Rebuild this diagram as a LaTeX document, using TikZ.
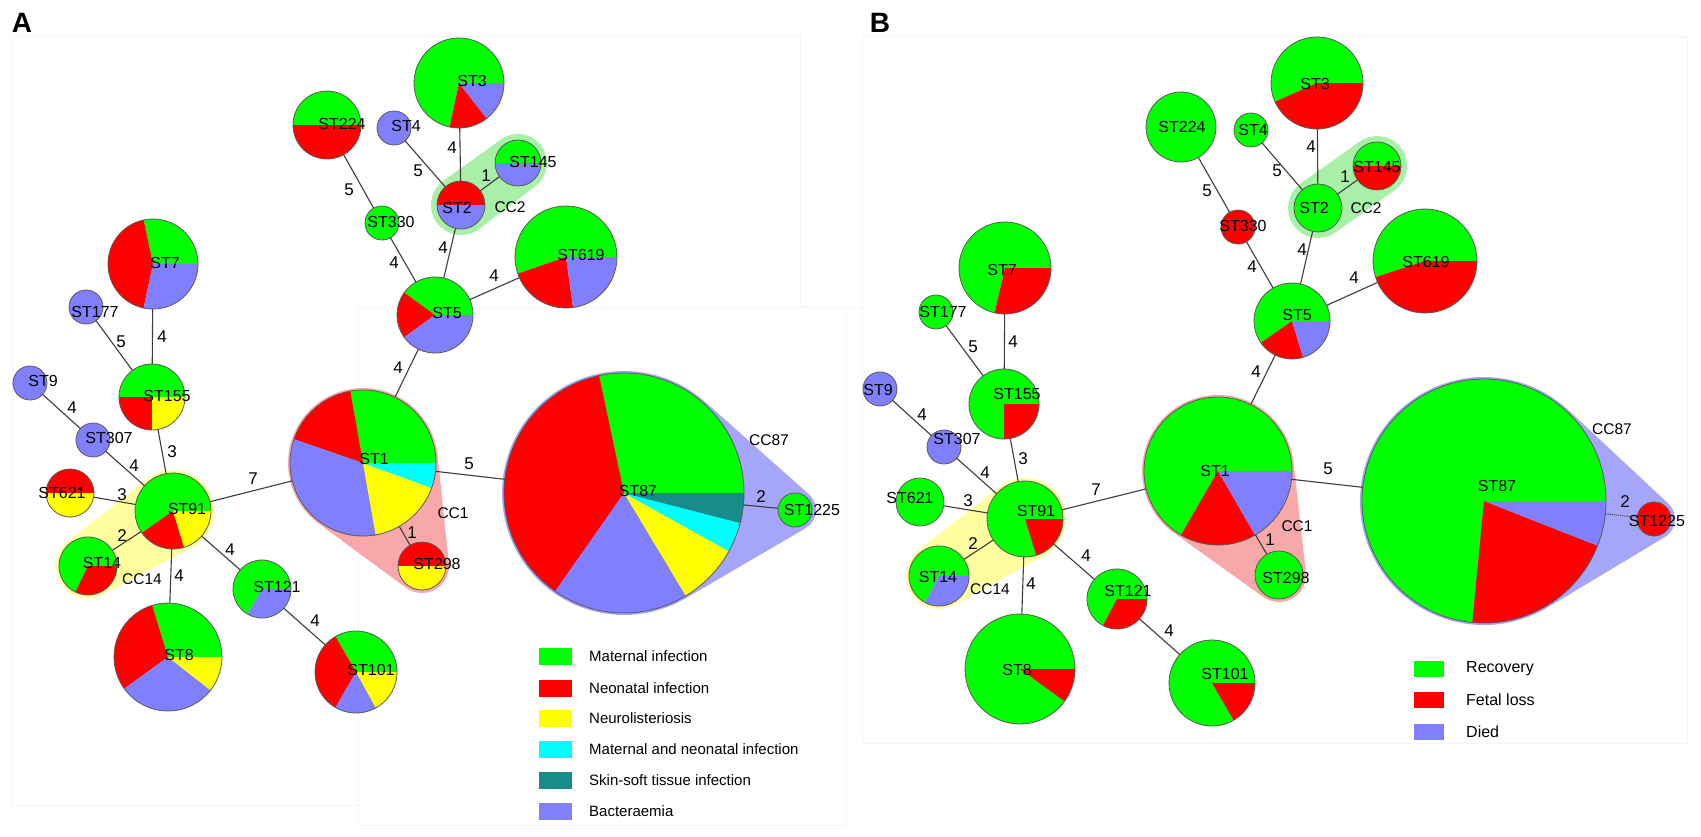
\documentclass[tikz,border=0pt]{standalone}
\usepackage{fontspec}
\setmainfont{Liberation Sans}
\usetikzlibrary{calc}
\pgfdeclarelayer{background}
\pgfsetlayers{background,main}
\definecolor{pg}{RGB}{0,255,0}
\definecolor{pr}{RGB}{255,0,0}
\definecolor{py}{RGB}{255,255,0}
\definecolor{pb}{RGB}{128,128,255}
\definecolor{pc}{RGB}{0,255,255}
\definecolor{pt}{RGB}{24,140,136}
\definecolor{hg}{RGB}{168,240,168}
\definecolor{hy}{RGB}{255,255,160}
\definecolor{hr}{RGB}{248,168,168}
\definecolor{hb}{RGB}{165,165,250}
\definecolor{edgec}{RGB}{60,60,60}
\definecolor{framec}{RGB}{244,244,244}
\tikzset{
  pieline/.style={draw=black!65, line width=0.8pt},
  stl/.style={font=\fontsize{16}{18}\selectfont, inner sep=0pt},
  el/.style={font=\fontsize{17}{19}\selectfont, inner sep=0pt},
  ccl/.style={font=\fontsize{15.5}{18}\selectfont, inner sep=0pt},
  legt/.style={font=\fontsize{15}{18}\selectfont, inner sep=0pt, anchor=west},
  edge/.style={draw=edgec, line width=1.1pt},
  frame/.style={draw=framec, line width=1pt},
  panel/.style={font=\fontsize{28}{30}\selectfont\bfseries, inner sep=0pt}
}
\newcommand{\pienode}[8]{%
  \node[circle, inner sep=0pt, minimum size=2*#4pt] (#1) at (#2,#3) {};
  \foreach \a/\b/\c in {#5} {\fill[\c] (#2,#3) -- ++(-\a:#4) arc[start angle=-\a, end angle=-\b, radius=#4] -- cycle;}
  \draw[pieline] (#2,#3) circle[radius=#4];
  \node[stl] (#1t) at (#2+#6,#3+#7) {#8};
}
\newcommand{\hull}[7]{%
  \pgfmathsetmacro{\hullD}{veclen(#4-#1,#5-#2)}%
  \pgfmathsetmacro{\hullT}{atan2(#5-#2,#4-#1)}%
  \pgfmathsetmacro{\hullP}{acos((#3-#6)/\hullD)}%
  \fill[#7] (#1,#2) ++(\hullT+\hullP:#3) arc[start angle=\hullT+\hullP, end angle=\hullT-\hullP+360, radius=#3] -- ($(#4,#5)+(\hullT-\hullP:#6)$) arc[start angle=\hullT-\hullP, end angle=\hullT+\hullP, radius=#6] -- cycle;
}
\newcommand{\elab}[4]{\node[el] (#1) at (#2,#3) {#4};}
\begin{document}
\begin{tikzpicture}[x=1pt,y=-1pt]
\useasboundingbox (0,0) rectangle (1701,836);
\begin{pgfonlayer}{background}
\fill[white] (0,0) rectangle (1701,836);
% faint frames
\draw[frame] (12,805) -- (12,36) -- (800,36) -- (800,307);
\draw[frame] (12,805) -- (358,805);
\draw[frame] (358,307) rectangle (846,825);
\draw[frame] (862,36) rectangle (1687,743);
\draw[frame] (846,307) -- (862,307);
\end{pgfonlayer}
\node[panel] (pA) at (22,23) {A};
\node[panel] (pB) at (880,23) {B};

% ================= Panel A =================
\pienode{a224}{327}{125}{34}{0/180/pg,180/360/pr}{15}{-1}{ST224}
\pienode{a4}{394}{128}{17}{0/360/pb}{12}{-2}{ST4}
\pienode{a3}{459}{83}{45}{0/258/pg,258/308/pr,308/360/pb}{13}{-2}{ST3}
\pienode{a2}{461}{205}{24}{0/180/pr,180/360/pb}{-4}{3}{ST2}
\pienode{a145}{518}{163}{23}{0/180/pg,180/360/pb}{15}{-1}{ST145}
\pienode{a330}{382}{223}{17}{0/360/pg}{9}{-1}{ST330}
\pienode{a5}{435}{315}{38}{0/144/pg,144/216/pr,216/360/pb}{12}{-2}{ST5}
\pienode{a619}{566}{257}{51}{0/199/pg,199/278/pr,278/360/pb}{15}{-2}{ST619}
\pienode{a7}{153}{264}{45}{0/102/pg,102/258/pr,258/360/pb}{12}{-1}{ST7}
\pienode{a177}{86}{307}{17}{0/360/pb}{9}{5}{ST177}
\pienode{a155}{152}{397}{33}{0/180/pg,180/270/pr,270/360/py}{15}{-1}{ST155}
\pienode{a9}{30}{383}{17}{0/360/pb}{13}{-2}{ST9}
\pienode{a307}{93}{440}{17}{0/360/pb}{16}{-2}{ST307}
\pienode{a621}{70}{493}{24}{0/180/pr,180/360/py}{-8}{0}{ST621}
\pienode{a91}{173}{511}{38}{0/215/pg,215/287/pr,287/360/py}{14}{-2}{ST91}
\pienode{a14}{88}{566}{29}{0/244/pg,244/360/pr}{14}{-3}{ST14}
\pienode{a8}{168}{657}{54}{0/107/pg,107/216/pr,216/322/pb,322/360/py}{11}{-2}{ST8}
\pienode{a121}{262}{589}{29}{0/240/pg,240/360/pb}{15}{-2}{ST121}
\pienode{a101}{356}{672}{41}{0/120/pg,120/240/pr,240/299/pb,299/360/py}{15}{-2}{ST101}
\pienode{a1}{363}{463}{73}{0/100/pg,100/161/pr,161/280/pb,280/340/py,340/360/pc}{11}{-4}{ST1}
\pienode{a298}{422}{566}{24}{0/180/pr,180/360/py}{15}{-2}{ST298}
\pienode{a87}{624}{493}{120}{0/102/pg,102/235/pr,235/301/pb,301/331/py,331/345.5/pc,345.5/360/pt}{14}{-2}{ST87}
\pienode{a1225}{795}{510}{17}{0/360/pg}{17}{0}{ST1225}

\begin{pgfonlayer}{background}
\hull{461}{205}{30}{518}{163}{29}{hg}
\hull{173}{511}{41}{88}{566}{32}{hy}
\hull{363}{463}{75}{422}{566}{27}{hr}
\hull{624}{493}{122}{795}{510}{21}{hb}
\end{pgfonlayer}

\draw[edge] (a3) -- (a2);
\draw[edge] (a4) -- (a2);
\draw[edge] (a2) -- (a145);
\draw[edge] (a224) -- (a330);
\draw[edge] (a330) -- (a5);
\draw[edge] (a2) -- (a5);
\draw[edge] (a5) -- (a619);
\draw[edge] (a5) -- (a1);
\draw[edge] (a7) -- (a155);
\draw[edge] (a177) -- (a155);
\draw[edge] (a9) -- (a307);
\draw[edge] (a155) -- (a91);
\draw[edge] (a307) -- (a91);
\draw[edge] (a621) -- (a91);
\draw[edge] (a14) -- (a91);
\draw[edge] (a91) -- (a8);
\draw[edge] (a91) -- (a121);
\draw[edge] (a121) -- (a101);
\draw[edge] (a91) -- (a1);
\draw[edge] (a1) -- (a298);
\draw[edge] (a1) -- (a87);
\draw[edge] (a87) -- (a1225);

\elab{ea1}{452}{148}{4}
\elab{ea2}{418}{171}{5}
\elab{ea3}{486}{176}{1}
\elab{ea4}{349}{190}{5}
\elab{ea5}{394}{263}{4}
\elab{ea6}{443}{248}{4}
\elab{ea7}{494}{276}{4}
\elab{ea8}{398}{368}{4}
\elab{ea9}{162}{337}{4}
\elab{ea10}{121}{342}{5}
\elab{ea11}{72}{408}{4}
\elab{ea12}{172}{452}{3}
\elab{ea13}{134}{466}{4}
\elab{ea14}{122}{495}{3}
\elab{ea15}{122}{536}{2}
\elab{ea16}{179}{576}{4}
\elab{ea17}{230}{550}{4}
\elab{ea18}{315}{621}{4}
\elab{ea19}{253}{479}{7}
\elab{ea20}{412}{533}{1}
\elab{ea21}{469}{464}{5}
\elab{ea22}{761}{497}{2}

\node[ccl] (cca2) at (510,207) {CC2};
\node[ccl] (cca14) at (142,579) {CC14};
\node[ccl] (cca1) at (453,513) {CC1};
\node[ccl] (cca87) at (769,440) {CC87};

% legend A
\foreach \i/\yy/\cc/\tt in {1/656/pg/Maternal infection,2/688/pr/Neonatal infection,3/718/py/Neurolisteriosis,4/749/pc/Maternal and neonatal infection,5/780/pt/Skin-soft tissue infection,6/811/pb/Bacteraemia}{
  \node[fill=\cc, minimum width=33pt, minimum height=17pt, inner sep=0pt] (lgA\i) at (555.5,\yy) {};
  \node[legt] (lgAt\i) at (589,\yy) {\tt};
}

% ================= Panel B =================
\pienode{b224}{1181}{127}{35}{0/360/pg}{1}{0}{ST224}
\pienode{b4}{1251}{130}{17}{0/360/pg}{2}{0}{ST4}
\pienode{b3}{1317}{83}{46}{0/204/pg,204/360/pr}{-2}{1}{ST3}
\pienode{b2}{1318}{208}{24}{0/360/pg}{-4}{0}{ST2}
\pienode{b145}{1377}{166}{24}{0/180/pg,180/360/pr}{0}{1}{ST145}
\pienode{b330}{1238}{227}{17}{0/360/pr}{5}{-1}{ST330}
\pienode{b5}{1292}{321}{38}{0/215/pg,215/287/pr,287/360/pb}{5}{-6}{ST5}
\pienode{b619}{1425}{261}{52}{0/198/pg,198/360/pr}{1}{1}{ST619}
\pienode{b7}{1005}{268}{46}{0/257/pg,257/360/pr}{-3}{2}{ST7}
\pienode{b177}{936}{312}{17}{0/360/pg}{7}{0}{ST177}
\pienode{b155}{1004}{404}{35}{0/270/pg,270/360/pr}{13}{-10}{ST155}
\pienode{b9}{880}{389}{17}{0/360/pb}{-2}{1}{ST9}
\pienode{b307}{944}{447}{17}{0/360/pb}{13}{-8}{ST307}
\pienode{b621}{920}{502}{24}{0/360/pg}{-10}{-4}{ST621}
\pienode{b91}{1025}{519}{38}{0/287/pg,287/360/pr}{11}{-8}{ST91}
\pienode{b14}{939}{576}{30}{0/242/pg,242/360/pb}{-1}{1}{ST14}
\pienode{b8}{1020}{669}{55}{0/324/pg,324/360/pr}{-3}{1}{ST8}
\pienode{b121}{1117}{599}{30}{0/242/pg,242/360/pr}{11}{-8}{ST121}
\pienode{b101}{1212}{683}{43}{0/300/pg,300/360/pr}{13}{-9}{ST101}
\pienode{b1}{1218}{471}{74}{0/240/pg,240/300/pr,300/360/pb}{-3}{0}{ST1}
\pienode{b298}{1279}{575}{24}{0/360/pg}{7}{3}{ST298}
\pienode{b87}{1484}{501}{122}{0/264.5/pg,264.5/338.5/pr,338.5/360/pb}{13}{-15}{ST87}
\pienode{b1225}{1654}{519}{17}{0/360/pr}{3}{2}{ST1225}

\begin{pgfonlayer}{background}
\hull{1318}{208}{30}{1377}{166}{30}{hg}
\hull{1025}{519}{41}{939}{576}{33}{hy}
\hull{1218}{471}{76}{1279}{575}{27}{hr}
\hull{1484}{501}{124}{1654}{519}{21}{hb}
\end{pgfonlayer}

\draw[edge] (b3) -- (b2);
\draw[edge] (b4) -- (b2);
\draw[edge] (b2) -- (b145);
\draw[edge] (b224) -- (b330);
\draw[edge] (b330) -- (b5);
\draw[edge] (b2) -- (b5);
\draw[edge] (b5) -- (b619);
\draw[edge] (b5) -- (b1);
\draw[edge] (b7) -- (b155);
\draw[edge] (b177) -- (b155);
\draw[edge] (b9) -- (b307);
\draw[edge] (b155) -- (b91);
\draw[edge] (b307) -- (b91);
\draw[edge] (b621) -- (b91);
\draw[edge] (b14) -- (b91);
\draw[edge] (b91) -- (b8);
\draw[edge] (b91) -- (b121);
\draw[edge] (b121) -- (b101);
\draw[edge] (b91) -- (b1);
\draw[edge] (b1) -- (b298);
\draw[edge] (b1) -- (b87);
\draw[edge, densely dotted, line width=0.9pt] (b87) -- (b1225);

\elab{eb1}{1207}{191}{5}
\elab{eb2}{1277}{171}{5}
\elab{eb3}{1311}{147}{4}
\elab{eb4}{1345}{177}{1}
\elab{eb5}{1302}{250}{4}
\elab{eb6}{1252}{267}{4}
\elab{eb7}{1354}{278}{4}
\elab{eb8}{1256}{372}{4}
\elab{eb9}{1013}{342}{4}
\elab{eb10}{973}{347}{5}
\elab{eb11}{922}{415}{4}
\elab{eb12}{1023}{459}{3}
\elab{eb13}{985}{473}{4}
\elab{eb14}{968}{501}{3}
\elab{eb15}{973}{544}{2}
\elab{eb16}{1031}{584}{4}
\elab{eb17}{1086}{556}{4}
\elab{eb18}{1169}{631}{4}
\elab{eb19}{1096}{490}{7}
\elab{eb20}{1270}{540}{1}
\elab{eb21}{1328}{469}{5}
\elab{eb22}{1625}{502}{2}

\node[ccl] (ccb2) at (1366,208) {CC2};
\node[ccl] (ccb14) at (990,589) {CC14};
\node[ccl] (ccb1) at (1297,526) {CC1};
\node[ccl] (ccb87) at (1612,429) {CC87};

% legend B
\foreach \i/\yy/\cc/\tt in {1/669/pg/Recovery,2/700/pr/Fetal loss,3/732/pb/Died}{
  \node[fill=\cc, minimum width=30pt, minimum height=16pt, inner sep=0pt] (lgB\i) at (1429,\yy) {};
  \node[legt, font=\fontsize{16}{18}\selectfont] (lgBt\i) at (1466,\yy) {\tt};
}
\end{tikzpicture}
\end{document}
